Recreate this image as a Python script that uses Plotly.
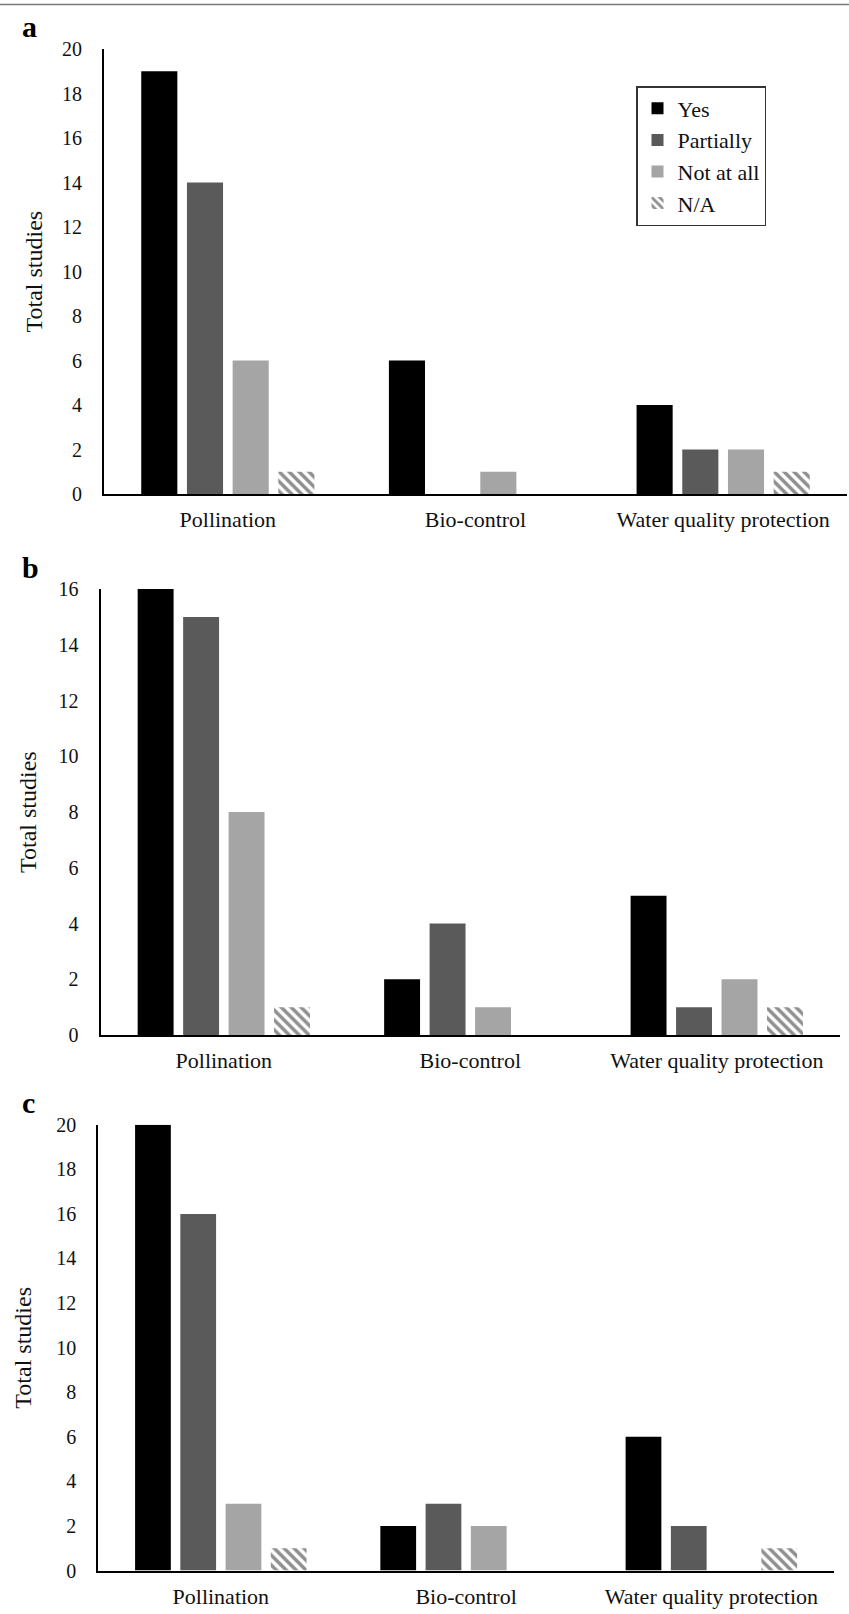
import plotly.graph_objects as go

W, H = 849, 1614

categories = ["Pollination", "Bio-control", "Water quality protection"]
series_names = ["Yes", "Partially", "Not at all", "N/A"]

panel_a = {
    "Yes": [19, 6, 4],
    "Partially": [14, 0, 2],
    "Not at all": [6, 1, 2],
    "N/A": [1, 0, 1],
}
panel_b = {
    "Yes": [16, 2, 5],
    "Partially": [15, 4, 1],
    "Not at all": [8, 1, 2],
    "N/A": [1, 0, 1],
}
panel_c = {
    "Yes": [20, 2, 6],
    "Partially": [16, 3, 2],
    "Not at all": [3, 2, 0],
    "N/A": [1, 0, 1],
}
panel_letters = ["a", "b", "c"]
y_max = [20, 16, 20]

# pixel geometry of each panel: (left, right, top, bottom)
geom = [
    (104, 847, 49, 494),
    (100.6, 840, 589, 1035),
    (98.2, 834, 1124.7, 1570.6),
]
ytitle_x = [34, 28, 23]

styles = {
    "Yes": dict(color="#000000"),
    "Partially": dict(color="#5a5a5a"),
    "Not at all": dict(color="#a5a5a5"),
    "N/A": dict(color="#ffffff", pattern=dict(shape="\\", fgcolor="#1e1e1e", bgcolor="#ffffff", size=7, solidity=0.5)),
}

FONT = "Liberation Serif, Times New Roman, serif"

fig = go.Figure()
panels = [panel_a, panel_b, panel_c]
for i, pdata in enumerate(panels):
    ax = "" if i == 0 else str(i + 1)
    for name in series_names:
        fig.add_trace(go.Bar(
            x=categories, y=pdata[name], name=name,
            marker=dict(**styles[name], line=dict(width=0)),
            xaxis="x" + ax, yaxis="y" + ax,
            showlegend=(i == 0), legendgroup=name,
        ))

layout = dict(
    width=W, height=H,
    margin=dict(l=0, r=0, t=0, b=0, pad=0, autoexpand=False),
    paper_bgcolor="white", plot_bgcolor="white",
    barmode="group", bargap=0.262, bargroupgap=0.21,
    font=dict(family=FONT, color="#111111"),
    showlegend=True,
    legend=dict(
        x=636 / W, y=1 - 86 / H, xanchor="left", yanchor="top",
        font=dict(family=FONT, size=22, color="#111111"),
        bordercolor="#333333", borderwidth=1.5, bgcolor="white",
        itemwidth=30, tracegroupgap=0,
    ),
    annotations=[], shapes=[],
)

for i in range(3):
    l, r, t, b = geom[i]
    ax = "" if i == 0 else str(i + 1)
    layout["xaxis" + ax] = dict(
        domain=[l / W, r / W], anchor="y" + ax, automargin=False,
        showline=True, linecolor="#000000", linewidth=2,
        showgrid=False, zeroline=False, ticks="",
        tickfont=dict(family=FONT, size=22, color="#111111"),
        ticklabelstandoff=5,
        fixedrange=True,
    )
    layout["yaxis" + ax] = dict(
        domain=[1 - b / H, 1 - t / H], anchor="x" + ax, automargin=False,
        range=[0, y_max[i]], dtick=2,
        showline=True, linecolor="#000000", linewidth=2,
        showgrid=False, zeroline=False, ticks="",
        tickfont=dict(family=FONT, size=20, color="#111111"),
        ticklabelstandoff=16,
        fixedrange=True,
    )
    layout["annotations"].append(dict(
        text="<b>%s</b>" % panel_letters[i], xref="paper", yref="paper",
        x=20 / W, y=1 - (t - 22) / H, xanchor="left", yanchor="middle",
        showarrow=False, font=dict(family=FONT, size=30, color="#000000"),
    ))
    layout["annotations"].append(dict(
        text="Total studies", xref="paper", yref="paper",
        x=ytitle_x[i] / W, y=1 - ((t + b) / 2) / H, xanchor="center", yanchor="middle",
        textangle=-90, showarrow=False, font=dict(family=FONT, size=24, color="#111111"),
    ))

layout["shapes"].append(dict(
    type="line", xref="paper", yref="paper", x0=0, x1=1, y0=1 - 4.5 / H, y1=1 - 4.5 / H,
    line=dict(color="#7a7a7a", width=1.5),
))

fig.update_layout(**layout)
fig.write_html(
    "out.html",
    config={"displayModeBar": False},
    post_script="document.body.style.margin='0px';document.body.style.overflow='hidden';",
)
